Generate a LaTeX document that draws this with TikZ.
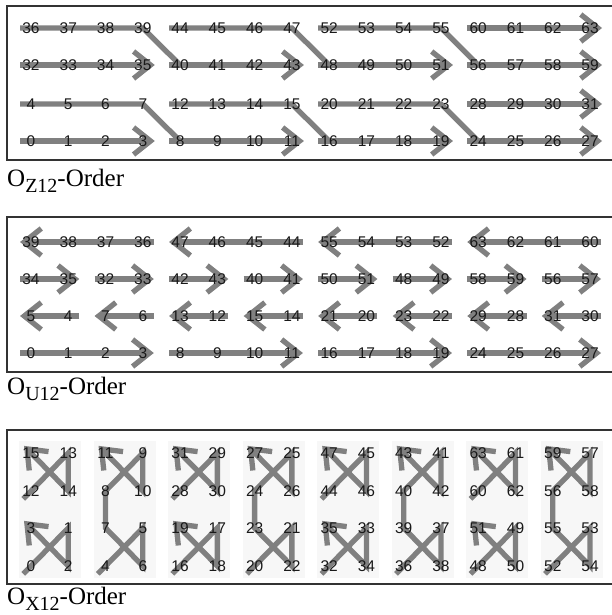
\documentclass[tikz,border=0pt]{standalone}
\usepackage{fontspec}
\setmainfont{Liberation Serif}
\newfontfamily\numfont{Liberation Sans}
\usetikzlibrary{arrows.meta,backgrounds}

\begin{document}
\begin{tikzpicture}[x=1pt,y=-1pt,
  num/.style={font=\numfont\fontsize{15.5}{16}\selectfont, text=black!90, inner sep=0pt,
              text height=11.1pt, text depth=0pt},
  trail/.style={draw=black!50, line width=5.3pt},
  tip/.style={-{Straight Barb[length=17pt,width=27pt]}},
  frame/.style={draw=black!80, line width=1.3pt},
  caption/.style={anchor=base west, inner sep=0pt, font=\fontsize{25}{28}\selectfont}]
\useasboundingbox (0,0) rectangle (612,615);

% ---------------- Z-order panel ----------------
\draw[frame] (7,6) rectangle (616,160);
\foreach \v [count=\i from 0] in {36,37,38,39,44,45,46,47,52,53,54,55,60,61,62,63}
  \node[num] (z\v) at (31+37.27*\i,28) {\v};
\foreach \v [count=\i from 0] in {32,33,34,35,40,41,42,43,48,49,50,51,56,57,58,59}
  \node[num] (z\v) at (31+37.27*\i,65) {\v};
\foreach \v [count=\i from 0] in {4,5,6,7,12,13,14,15,20,21,22,23,28,29,30,31}
  \node[num] (z\v) at (31+37.27*\i,104) {\v};
\foreach \v [count=\i from 0] in {0,1,2,3,8,9,10,11,16,17,18,19,24,25,26,27}
  \node[num] (z\v) at (31+37.27*\i,141) {\v};
\begin{scope}[on background layer]
  \foreach \a/\b in {0/3,8/11,16/19,24/27,28/31,32/35,40/43,48/51,56/59,60/63}
    \draw[trail,tip,shorten <=-11pt,shorten >=-12pt] (z\a.center) -- (z\b.center);
  \foreach \a/\b/\c in {4/7/8,12/15/16,20/23/24,36/39/40,44/47/48,52/55/56}
    \draw[trail,shorten <=-11pt] (z\a.center) -- (z\b.center) -- (z\c.center);
\end{scope}
\node[caption] (capz) at (7,186)
  {O\raisebox{-6pt}{\fontsize{20}{22}\selectfont Z12}-Order};

% ---------------- U-order panel ----------------
\draw[frame] (7,217) rectangle (616,372);
\foreach \v [count=\i from 0] in {39,38,37,36,47,46,45,44,55,54,53,52,63,62,61,60}
  \node[num] (u\v) at (31+37.27*\i,242) {\v};
\foreach \v [count=\i from 0] in {34,35,32,33,42,43,40,41,50,51,48,49,58,59,56,57}
  \node[num] (u\v) at (31+37.27*\i,279) {\v};
\foreach \v [count=\i from 0] in {5,4,7,6,13,12,15,14,21,20,23,22,29,28,31,30}
  \node[num] (u\v) at (31+37.27*\i,316) {\v};
\foreach \v [count=\i from 0] in {0,1,2,3,8,9,10,11,16,17,18,19,24,25,26,27}
  \node[num] (u\v) at (31+37.27*\i,353) {\v};
\begin{scope}[on background layer]
  \foreach \a/\b in {0/3,8/11,16/19,24/27,36/39,44/47,52/55,60/63,
                     4/5,6/7,12/13,14/15,20/21,22/23,28/29,30/31,
                     34/35,32/33,42/43,40/41,50/51,48/49,58/59,56/57}
    \draw[trail,tip,shorten <=-11pt,shorten >=-11pt] (u\a.center) -- (u\b.center);
\end{scope}
\node[caption] (capu) at (7,394)
  {O\raisebox{-6pt}{\fontsize{20}{22}\selectfont U12}-Order};

% ---------------- X-order panel ----------------
\draw[frame] (7,430) rectangle (616,584);
\foreach \v [count=\i from 0] in {15,13,11,9,31,29,27,25,47,45,43,41,63,61,59,57}
  \node[num] (x\v) at (31+37.27*\i,453) {\v};
\foreach \v [count=\i from 0] in {12,14,8,10,28,30,24,26,44,46,40,42,60,62,56,58}
  \node[num] (x\v) at (31+37.27*\i,491) {\v};
\foreach \v [count=\i from 0] in {3,1,7,5,19,17,23,21,35,33,39,37,51,49,55,53}
  \node[num] (x\v) at (31+37.27*\i,528) {\v};
\foreach \v [count=\i from 0] in {0,2,4,6,16,18,20,22,32,34,36,38,48,50,52,54}
  \node[num] (x\v) at (31+37.27*\i,566) {\v};
\begin{scope}[on background layer]
  % pale tiles behind each column of crosses
  \foreach \g in {0,...,7}
    \fill[black!3] (19+74.54*\g,441) rectangle (81+74.54*\g,578);
  % single crosses
  \foreach \a/\b/\c/\d in {0/1/2/3,12/13/14/15,16/17/18/19,28/29/30/31,
                           32/33/34/35,44/45/46/47,48/49/50/51,60/61/62/63}
    \draw[trail,tip,shorten <=-11pt,shorten >=-10pt]
      (x\a.center) -- (x\b.center) -- (x\c.center) -- (x\d.center);
  % pairs of crosses joined by an upward stroke
  \foreach \a/\b/\c/\d/\e/\f/\g/\h in {4/5/6/7/8/9/10/11,20/21/22/23/24/25/26/27,
                                       36/37/38/39/40/41/42/43,52/53/54/55/56/57/58/59}
    \draw[trail,tip,shorten <=-11pt,shorten >=-10pt]
      (x\a.center) -- (x\b.center) -- (x\c.center) -- (x\d.center)
      -- (x\e.center) -- (x\f.center) -- (x\g.center) -- (x\h.center);
\end{scope}
\node[caption] (capx) at (7,604)
  {O\raisebox{-6pt}{\fontsize{20}{22}\selectfont X12}-Order};
\end{tikzpicture}
\end{document}
